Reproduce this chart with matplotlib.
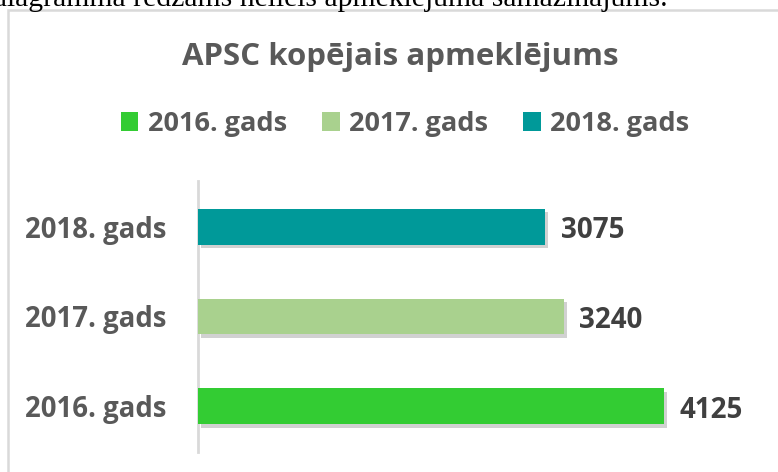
import matplotlib
matplotlib.use("Agg")
import matplotlib.pyplot as plt
from matplotlib.patches import Rectangle, Patch
import matplotlib.patheffects as pe

categories = ["2016. gads", "2017. gads", "2018. gads"]
values = [4125, 3240, 3075]
colors = ["#33CC33", "#A9D18E", "#009999"]
title = "APSC kopējais apmeklējums"
top_text = "diagramma redzams neliels apmeklējuma samazinājums."

W, H = 778, 472
fig = plt.figure(figsize=(W / 100, H / 100), dpi=100)
FONT = ["Open Sans", "DejaVu Sans"]
LABEL_GRAY = "#595959"
VAL_GRAY = "#404040"

def fx(px):
    return px / W

def fy(py):
    return 1 - py / H

# cut-off sentence above the chart (cut off in the reference too)
fig.text(fx(-8), fy(6), top_text, family=["Liberation Serif"], fontsize=21.4,
         color="black", va="baseline", ha="left")

# chart border
fig.patches.append(Rectangle((fx(8), fy(480)), fx(800), fy(10) - fy(480),
                             transform=fig.transFigure, fill=False,
                             edgecolor="#D9D9D9", lw=1.8, zorder=0))

ax = fig.add_axes([fx(198), fy(452), fx(763) - fx(198), fy(181) - fy(452)])
ypos = list(range(len(categories)))
shadow = [pe.SimplePatchShadow(offset=(2, -2.5), shadow_rgbFace="black", alpha=0.18), pe.Normal()]
bars = ax.barh(ypos, values, height=0.4, color=colors, zorder=3)
for b in bars:
    b.set_path_effects(shadow)
ax.set_xlim(0, 5000)
ax.set_ylim(-0.511, 2.511)
ax.set_xticks([])
ax.set_yticks(ypos)
ax.set_yticklabels(categories, family=FONT, fontsize=19.8, fontweight="bold", color=LABEL_GRAY)
ax.tick_params(axis="y", length=0, pad=23)
for s in ["top", "right", "bottom"]:
    ax.spines[s].set_visible(False)
ax.spines["left"].set_color("#D9D9D9")
ax.spines["left"].set_linewidth(2)

for y, v in zip(ypos, values):
    ax.annotate(f"{v}", (v, y), xytext=(11, -3), textcoords="offset points",
                va="center", ha="left", family=FONT, fontsize=20,
                fontweight="bold", color=VAL_GRAY)

fig.text(fx(400), fy(57), title, family=FONT, fontsize=22.5, fontweight="bold",
         color=LABEL_GRAY, ha="center", va="center")

handles = [Patch(facecolor=c, edgecolor="none") for c in colors]
leg = fig.legend(handles, categories, loc="center", bbox_to_anchor=(fx(405), fy(124)),
                 ncol=3, frameon=False, handlelength=0.65, handleheight=0.65,
                 handletextpad=0.35, columnspacing=1.3,
                 prop={"family": FONT, "size": 19.5, "weight": "bold"})
for t in leg.get_texts():
    t.set_color(LABEL_GRAY)

fig.savefig("out.png", dpi=100)
